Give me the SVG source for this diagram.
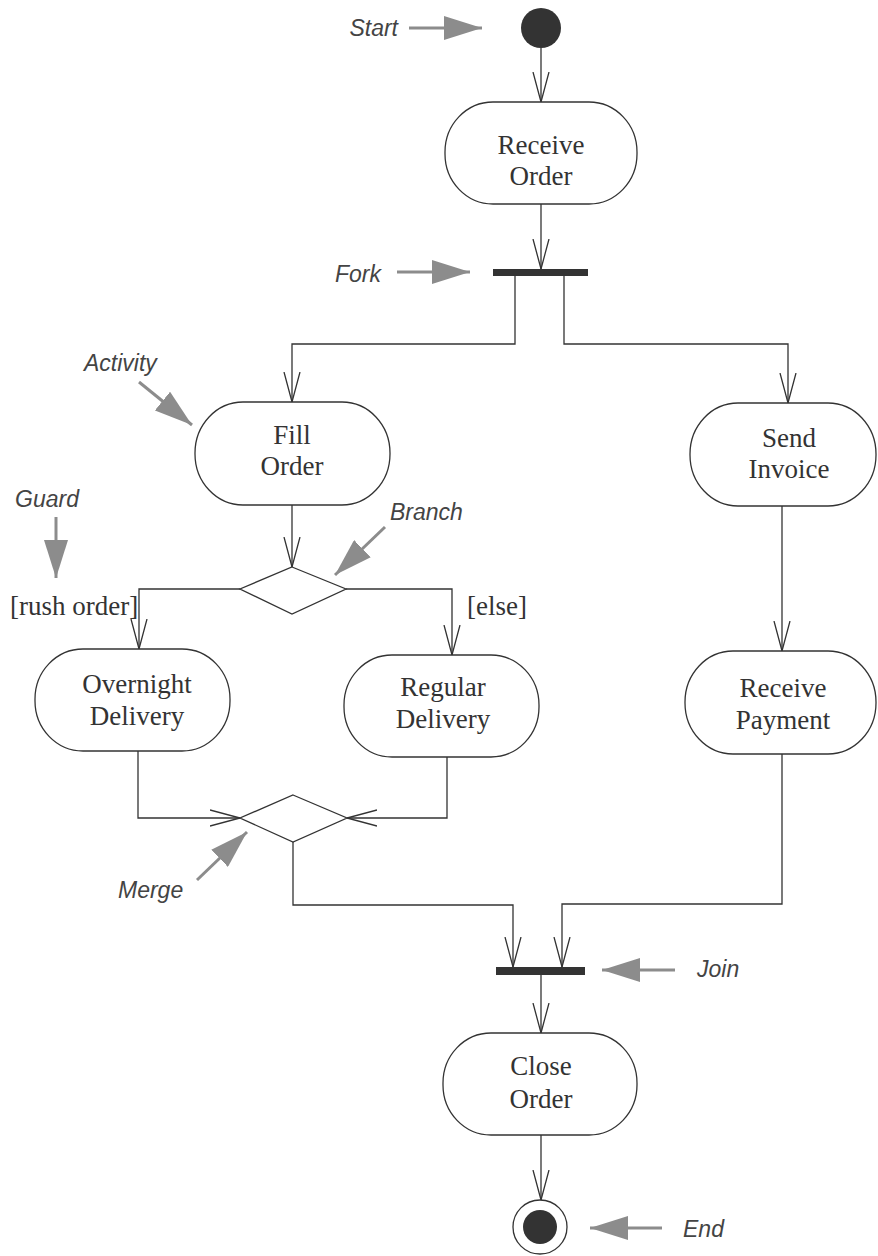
<svg xmlns="http://www.w3.org/2000/svg" width="878" height="1256" viewBox="0 0 878 1256">
<style>
.node{fill:#fff;stroke:#333;stroke-width:1.3}
.lbl{font-family:"Liberation Serif",serif;font-size:27px;fill:#333;text-anchor:middle}
.guard{font-family:"Liberation Serif",serif;font-size:27px;fill:#333}
.ann{font-family:"Liberation Sans",sans-serif;font-style:italic;font-size:23px;fill:#444}
.conn{fill:none;stroke:#333;stroke-width:1.3;marker-end:url(#open)}
.ga{fill:none;stroke:#8c8c8c;stroke-width:3;marker-end:url(#gray)}
.bar{fill:#333}
</style>
<defs>
<marker id="open" markerUnits="userSpaceOnUse" viewBox="0 0 30 18" markerWidth="30" markerHeight="18" refX="30" refY="9" orient="auto">
<path d="M0,1 L30,9 L0,17" fill="none" stroke="#333" stroke-width="1.3"/>
</marker>
<marker id="gray" markerUnits="userSpaceOnUse" viewBox="0 0 38 24" markerWidth="38" markerHeight="24" refX="38" refY="12" orient="auto">
<path d="M0,0 L38,12 L0,24 Z" fill="#8c8c8c"/>
</marker>
</defs>
<rect width="878" height="1256" fill="#fff"/>

<g id="connectors">
<path class="conn" d="M541,48 V102"/>
<path class="conn" d="M541,204 V269"/>
<path class="conn" d="M515,276 V344 H292 V402"/>
<path class="conn" d="M564,276 V344 H788 V403"/>
<path class="conn" d="M292,505 V567"/>
<path class="conn" d="M240,589 H139 V649"/>
<path class="conn" d="M346,589 H452 V655"/>
<path class="conn" d="M782,506 V651"/>
<path class="conn" d="M138,751 V818 H240"/>
<path class="conn" d="M447,757 V818 H347"/>
<path class="conn" d="M293,842 V905 H513 V967"/>
<path class="conn" d="M782,754 V904 H562 V967"/>
<path class="conn" d="M541,975 V1033"/>
<path class="conn" d="M541,1135 V1200"/>
</g>

<g id="start"><circle cx="541" cy="28" r="20" fill="#333"/></g>
<g id="receive-order">
<rect class="node" x="445" y="102" width="192" height="102" rx="48" ry="50"/>
<text class="lbl" x="541" y="154">Receive</text>
<text class="lbl" x="541" y="185">Order</text>
</g>
<g id="fork"><rect class="bar" x="493" y="269" width="95" height="7"/></g>
<g id="fill-order">
<rect class="node" x="195" y="402" width="195" height="103" rx="48" ry="51"/>
<text class="lbl" x="292" y="444">Fill</text>
<text class="lbl" x="292" y="475">Order</text>
</g>
<g id="send-invoice">
<rect class="node" x="690" y="403" width="186" height="103" rx="48" ry="51"/>
<text class="lbl" x="789" y="447">Send</text>
<text class="lbl" x="789" y="478">Invoice</text>
</g>
<g id="branch"><polygon class="node" points="292,567 346,589 292,614 240,589"/></g>
<g id="overnight-delivery">
<rect class="node" x="35" y="649" width="195" height="102" rx="48" ry="50"/>
<text class="lbl" x="137" y="693">Overnight</text>
<text class="lbl" x="137" y="725">Delivery</text>
</g>
<g id="regular-delivery">
<rect class="node" x="344" y="655" width="195" height="102" rx="48" ry="50"/>
<text class="lbl" x="443" y="696">Regular</text>
<text class="lbl" x="443" y="728">Delivery</text>
</g>
<g id="receive-payment">
<rect class="node" x="685" y="651" width="191" height="103" rx="48" ry="51"/>
<text class="lbl" x="783" y="697">Receive</text>
<text class="lbl" x="783" y="729">Payment</text>
</g>
<g id="merge"><polygon class="node" points="293,795 347,818 293,842 240,818"/></g>
<g id="join"><rect class="bar" x="496" y="967" width="89" height="8"/></g>
<g id="close-order">
<rect class="node" x="443" y="1033" width="194" height="102" rx="48" ry="50"/>
<text class="lbl" x="541" y="1075">Close</text>
<text class="lbl" x="541" y="1108">Order</text>
</g>
<g id="end">
<circle cx="540" cy="1227" r="27" fill="#fff" stroke="#333" stroke-width="1.3"/>
<circle cx="540" cy="1227" r="17" fill="#333"/>
</g>

<g id="guards">
<text class="guard" x="10" y="615">[rush order]</text>
<text class="guard" x="467" y="615">[else]</text>
</g>

<g id="annotations">
<text class="ann" x="398" y="36" text-anchor="end">Start</text>
<path class="ga" d="M409,28 H482"/>
<text class="ann" x="335" y="282">Fork</text>
<path class="ga" d="M397,272 H470"/>
<text class="ann" x="84" y="371">Activity</text>
<path class="ga" d="M139,382 L192,425"/>
<text class="ann" x="15" y="507">Guard</text>
<path class="ga" d="M56,517 V578"/>
<text class="ann" x="390" y="520">Branch</text>
<path class="ga" d="M385,527 L335,575"/>
<text class="ann" x="118" y="898">Merge</text>
<path class="ga" d="M197,880 L247,832"/>
<text class="ann" x="697" y="977">Join</text>
<path class="ga" d="M675,970 H602"/>
<text class="ann" x="683" y="1237">End</text>
<path class="ga" d="M662,1228 H590"/>
</g>
</svg>
